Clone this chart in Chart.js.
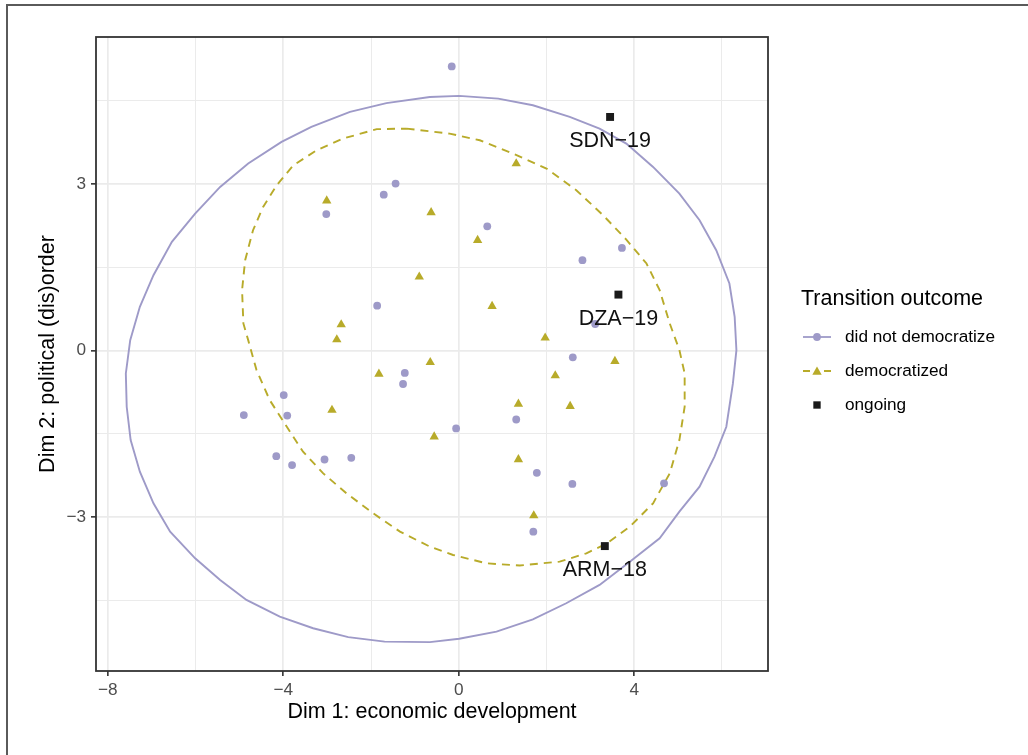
<!DOCTYPE html>
<html>
<head>
<meta charset="utf-8">
<title>Transition outcome map</title>
<script src="https://cdn.jsdelivr.net/npm/chart.js@4.4.1/dist/chart.umd.min.js"></script>
<style>
  html, body { margin: 0; padding: 0; background: #fff; }
  #wrap { position: relative; width: 1028px; height: 755px; }
</style>
</head>
<body>
<div id="wrap"><canvas id="mapChart" width="1028" height="755"></canvas></div>
<script>
// did not democratize (circles)
const notDemX = [-0.16, -1.44, -1.71, -3.02, 0.65, 3.72, 2.82, -1.86, 3.11, 2.60, -1.23, -1.27, -3.99,
                 -4.90, -3.91, 1.31, -0.06, -4.16, -3.80, -3.06, -2.45, 1.78, 2.59, 4.68, 1.70];
const notDemY = [5.12, 3.01, 2.81, 2.46, 2.24, 1.85, 1.63, 0.81, 0.48, -0.12, -0.40, -0.60, -0.80,
                 -1.16, -1.17, -1.24, -1.40, -1.90, -2.06, -1.96, -1.93, -2.20, -2.40, -2.39, -3.26];

// democratized (triangles)
const demX = [-3.01, -0.63, -0.90, -2.68, -2.78, 1.31, 0.43, 0.76, 1.97, -1.82, -0.65, 3.56, 2.20,
              1.36, 2.54, -2.89, -0.56, 1.36, 1.71];
const demY = [2.70, 2.49, 1.33, 0.47, 0.20, 3.37, 1.99, 0.80, 0.23, -0.42, -0.21, -0.19, -0.45,
              -0.96, -1.00, -1.07, -1.55, -1.96, -2.97];

// ongoing (squares, labelled)
const ongoingLabels = ['SDN\u221219', 'DZA\u221219', 'ARM\u221218'];
const ongoingX = [3.45, 3.64, 3.33];
const ongoingY = [4.21, 1.01, -3.52];

// ellipse outlines
const ellNotDemX = [0.01, 0.90, 1.69, 2.53, 3.21, 3.82, 4.43, 5.03, 5.49, 5.87, 6.17, 6.29, 6.33, 6.25,
  6.10, 5.83, 5.49, 5.03, 4.58, 3.90, 3.21, 2.45, 1.69, 0.86, 0.01, -0.66, -1.69, -2.52, -3.32, -4.08,
  -4.84, -5.44, -6.01, -6.58, -6.96, -7.27, -7.48, -7.57, -7.59, -7.49, -7.27, -6.96, -6.54, -6.01,
  -5.44, -4.80, -4.04, -3.36, -2.48, -1.65, -0.66, 0.01];
const ellNotDemY = [4.59, 4.54, 4.42, 4.21, 4.00, 3.73, 3.31, 2.83, 2.35, 1.81, 1.21, 0.61, 0.01, -0.59,
  -1.37, -1.91, -2.45, -2.90, -3.38, -3.80, -4.22, -4.55, -4.84, -5.06, -5.19, -5.25, -5.24, -5.16, -5.00,
  -4.79, -4.49, -4.13, -3.74, -3.26, -2.75, -2.18, -1.61, -1.01, -0.41, 0.19, 0.79, 1.36, 1.96, 2.47,
  2.95, 3.37, 3.76, 4.03, 4.30, 4.46, 4.57, 4.59];

const ellDemX = [-1.19, -0.21, 0.48, 1.24, 2.00, 2.68, 3.29, 3.82, 4.28, 4.58, 4.81, 5.03, 5.15, 5.15,
  5.03, 4.81, 4.43, 3.90, 3.36, 2.91, 2.30, 1.39, 0.63, -0.13, -0.66, -1.34, -1.95, -2.56, -3.09, -3.55,
  -3.92, -4.31, -4.61, -4.80, -4.91, -4.94, -4.87, -4.69, -4.46, -4.15, -3.77, -3.24, -2.64, -1.87, -1.19];
const ellDemY = [4.00, 3.91, 3.79, 3.55, 3.28, 2.89, 2.44, 2.00, 1.57, 1.09, 0.49, 0.01, -0.41, -1.01,
  -1.61, -2.21, -2.75, -3.17, -3.48, -3.65, -3.80, -3.87, -3.83, -3.68, -3.53, -3.26, -2.93, -2.57, -2.21,
  -1.82, -1.37, -0.89, -0.35, 0.19, 0.49, 1.09, 1.63, 2.17, 2.59, 2.98, 3.34, 3.61, 3.82, 3.99, 4.00];

// axes
const xGrid = [-8, -6, -4, -2, 0, 2, 4, 6];
const xMajor = [-8, -4, 0, 4];
const yGrid = [-4.5, -3, -1.5, 0, 1.5, 3, 4.5];
const yMajor = [-3, 0, 3];

const legendTitle = 'Transition outcome';
const legendLabels = ['did not democratize', 'democratized', 'ongoing'];

const PURPLE = '#9e9ac8';
const OLIVE = '#b8ab2a';
const BLACK = '#1a1a1a';
const FONT = '"Liberation Sans", Arial, Helvetica, sans-serif';

const pts = (xs, ys) => xs.map((x, i) => ({ x: x, y: ys[i] }));
const fmt = v => (v < 0 ? '\u2212' + Math.abs(v) : String(v));

Chart.defaults.font.family = FONT;

const panelPlugin = {
  id: 'panel',
  beforeDraw(chart) {
    const ctx = chart.ctx;
    ctx.save();
    ctx.fillStyle = '#fff';
    ctx.fillRect(0, 0, chart.width, chart.height);
    ctx.restore();
  },
  afterDatasetsDraw(chart) {
    const ctx = chart.ctx;
    const xs = chart.scales.x, ys = chart.scales.y;
    ctx.save();
    // point labels
    ctx.font = '21.5px ' + FONT;
    ctx.fillStyle = '#111';
    ctx.textAlign = 'center';
    ctx.textBaseline = 'middle';
    ongoingLabels.forEach((lab, i) => {
      ctx.fillText(lab, xs.getPixelForValue(ongoingX[i]), ys.getPixelForValue(ongoingY[i]) + 24);
    });
    // panel border
    const a = chart.chartArea;
    ctx.strokeStyle = '#333';
    ctx.lineWidth = 1.8;
    ctx.strokeRect(a.left, a.top, a.right - a.left, a.bottom - a.top);
    ctx.restore();
  },
  afterDraw(chart) {
    const ctx = chart.ctx;
    ctx.save();
    // outer frame
    ctx.strokeStyle = '#5a5a5a';
    ctx.lineWidth = 2;
    ctx.beginPath();
    ctx.moveTo(7, chart.height);
    ctx.lineTo(7, 5);
    ctx.lineTo(chart.width, 5);
    ctx.stroke();

    // legend
    ctx.fillStyle = '#000';
    ctx.textBaseline = 'middle';
    ctx.textAlign = 'left';
    ctx.font = '21.5px ' + FONT;
    ctx.fillText(legendTitle, 801, 299);
    ctx.font = '17.2px ' + FONT;
    const ys = [337, 371, 405];
    // did not democratize
    ctx.strokeStyle = PURPLE;
    ctx.lineWidth = 1.8;
    ctx.beginPath();
    ctx.moveTo(803, ys[0]); ctx.lineTo(831, ys[0]);
    ctx.stroke();
    ctx.fillStyle = PURPLE;
    Chart.helpers.drawPoint(ctx, { pointStyle: 'circle', radius: 3.9, rotation: 0, borderWidth: 0 }, 817, ys[0]);
    // democratized
    ctx.strokeStyle = OLIVE;
    ctx.beginPath();
    ctx.moveTo(803, ys[1]); ctx.lineTo(810, ys[1]);
    ctx.moveTo(824, ys[1]); ctx.lineTo(831, ys[1]);
    ctx.stroke();
    ctx.fillStyle = OLIVE;
    Chart.helpers.drawPoint(ctx, { pointStyle: 'triangle', radius: 5.4, rotation: 0, borderWidth: 0 }, 817, ys[1] + 1);
    // ongoing
    ctx.fillStyle = BLACK;
    Chart.helpers.drawPoint(ctx, { pointStyle: 'rect', radius: 5.2, rotation: 0, borderWidth: 0 }, 817, ys[2]);

    ctx.fillStyle = '#000';
    legendLabels.forEach((t, i) => ctx.fillText(t, 845, ys[i]));
    ctx.restore();
  }
};

new Chart(document.getElementById('mapChart').getContext('2d'), {
  type: 'scatter',
  data: {
    datasets: [
      {
        label: 'ongoing',
        data: pts(ongoingX, ongoingY),
        pointStyle: 'rect',
        pointRadius: 5.6,
        pointBackgroundColor: BLACK,
        pointBorderWidth: 0
      },
      {
        label: 'democratized',
        data: pts(demX, demY),
        pointStyle: 'triangle',
        pointRadius: 5.4,
        pointBackgroundColor: OLIVE,
        pointBorderWidth: 0
      },
      {
        label: 'did not democratize',
        data: pts(notDemX, notDemY),
        pointStyle: 'circle',
        pointRadius: 3.9,
        pointBackgroundColor: PURPLE,
        pointBorderWidth: 0
      },
      {
        label: 'democratized ellipse',
        data: pts(ellDemX, ellDemY),
        showLine: true,
        borderColor: OLIVE,
        borderWidth: 1.9,
        borderDash: [8, 6],
        pointRadius: 0,
        fill: false,
        tension: 0
      },
      {
        label: 'did not democratize ellipse',
        data: pts(ellNotDemX, ellNotDemY),
        showLine: true,
        borderColor: PURPLE,
        borderWidth: 1.9,
        pointRadius: 0,
        fill: false,
        tension: 0
      }
    ]
  },
  options: {
    responsive: false,
    animation: false,
    devicePixelRatio: 1,
    layout: { padding: { left: 0, right: 260, top: 37, bottom: 0 } },
    plugins: {
      legend: { display: false },
      tooltip: { enabled: false }
    },
    scales: {
      x: {
        type: 'linear',
        min: -8.27,
        max: 7.05,
        afterBuildTicks: s => { s.ticks = xGrid.map(v => ({ value: v })); },
        afterFit: s => { s.height = 84; },
        border: { display: false },
        grid: {
          color: '#ebebeb',
          lineWidth: c => (xMajor.includes(c.tick.value) ? 1.7 : 1),
          tickColor: c => (xMajor.includes(c.tick.value) ? '#333' : 'rgba(0,0,0,0)'),
          tickLength: 5,
          tickWidth: 1.6
        },
        ticks: {
          autoSkip: false,
          maxRotation: 0,
          padding: 4,
          color: '#4d4d4d',
          font: { size: 17.2 },
          callback: v => (xMajor.includes(v) ? fmt(v) : '')
        },
        title: {
          display: true,
          text: 'Dim 1: economic development',
          color: '#000',
          font: { size: 21.5 },
          padding: { top: 0, bottom: 30 }
        }
      },
      y: {
        type: 'linear',
        min: -5.77,
        max: 5.65,
        afterBuildTicks: s => { s.ticks = yGrid.map(v => ({ value: v })); },
        afterFit: s => { s.width = 96; },
        border: { display: false },
        grid: {
          color: '#ebebeb',
          lineWidth: c => (yMajor.includes(c.tick.value) ? 1.7 : 1),
          tickColor: c => (yMajor.includes(c.tick.value) ? '#333' : 'rgba(0,0,0,0)'),
          tickLength: 5,
          tickWidth: 1.6
        },
        ticks: {
          autoSkip: false,
          padding: 5,
          color: '#4d4d4d',
          font: { size: 17.2 },
          callback: v => (yMajor.includes(v) ? fmt(v) : '')
        },
        title: {
          display: true,
          text: 'Dim 2: political (dis)order',
          color: '#000',
          font: { size: 21.5 },
          padding: { top: 35, bottom: 0 }
        }
      }
    }
  },
  plugins: [panelPlugin]
});
</script>
</body>
</html>
